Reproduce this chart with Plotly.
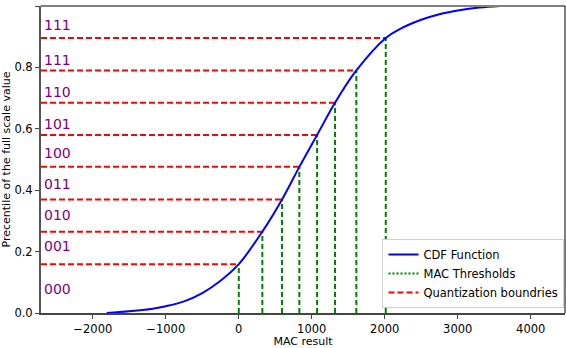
import plotly.graph_objects as go

# CDF curve
cdf_x = [-1810, -1500, -1200, -1000, -750, -500, -250, 0, 323, 593, 830, 1073,
         1319, 1611, 2014, 2200, 2500, 2750, 3000, 3300, 3580]
cdf_y = [0.0, 0.006, 0.013, 0.022, 0.038, 0.065, 0.105, 0.159, 0.265, 0.370,
         0.476, 0.580, 0.685, 0.790, 0.896, 0.924, 0.955, 0.973, 0.985, 0.995, 1.0]

# MAC thresholds and quantization levels
thresh_x = [0, 323, 593, 830, 1073, 1319, 1611, 2014]
levels_y = [0.159, 0.265, 0.370, 0.476, 0.580, 0.685, 0.790, 0.896]

codes = ["000", "001", "010", "011", "100", "101", "110", "111", "111"]
code_y = [0.078, 0.218, 0.319, 0.42, 0.521, 0.616, 0.72, 0.824, 0.938]

x_min, x_max = -2710, 4470
font = "DejaVu Sans"

fig = go.Figure()

for i in range(len(thresh_x)):
    fig.add_trace(go.Scatter(x=[thresh_x[i], thresh_x[i]], y=[0, levels_y[i]], mode='lines',
                             line=dict(color='green', width=2, dash='5px,3px'),
                             showlegend=False, hoverinfo='skip'))
    fig.add_trace(go.Scatter(x=[x_min, thresh_x[i]], y=[levels_y[i], levels_y[i]], mode='lines',
                             line=dict(color='red', width=2, dash='6px,3px'),
                             showlegend=False, hoverinfo='skip'))

fig.add_trace(go.Scatter(x=cdf_x, y=cdf_y, mode='lines', line=dict(color='blue', width=2, shape='spline'),
                         name='CDF Function'))
# legend entries only
fig.add_trace(go.Scatter(x=[None], y=[None], mode='lines', line=dict(color='green', width=2, dash='2px,2px'),
                         name='MAC Thresholds'))
fig.add_trace(go.Scatter(x=[None], y=[None], mode='lines', line=dict(color='red', width=2, dash='6px,3px'),
                         name='Quantization boundries'))

for i in range(len(codes)):
    fig.add_annotation(x=-2690, y=code_y[i], text=codes[i], showarrow=False, xanchor='left',
                       yanchor='middle', font=dict(color='purple', size=14, family=font))

fig.update_layout(
    width=566, height=348,
    margin=dict(l=41, r=1, t=6, b=35, autoexpand=False),
    paper_bgcolor='white', plot_bgcolor='white',
    font=dict(family=font, size=11, color='black'),
    legend=dict(x=0.999, y=0.016, xanchor='right', yanchor='bottom', bgcolor='white',
                bordercolor='#d0d0d0', borderwidth=1, font=dict(size=11.5), tracegroupgap=0),
    shapes=[
        dict(type='line', xref='paper', yref='paper', x0=0, x1=1, y0=1, y1=1,
             line=dict(color='gray', width=2)),
        dict(type='line', xref='paper', yref='paper', x0=1, x1=1, y0=0, y1=1,
             line=dict(color='black', width=1)),
    ],
)
fig.update_xaxes(range=[x_min, x_max], tickvals=[-2000, -1000, 0, 1000, 2000, 3000, 4000],
                 showgrid=False, zeroline=False, showline=True, linecolor='#444', linewidth=2,
                 ticks='outside', ticklen=4, tickcolor='#444', automargin=False,
                 tickfont=dict(size=11.5),
                 title=dict(text='MAC result', standoff=2, font=dict(size=11)))
fig.update_yaxes(range=[0, 1], tickvals=[0, 0.2, 0.4, 0.6, 0.8, 1.0], tickformat='.1f',
                 showgrid=False, zeroline=False, showline=True, linecolor='#555', linewidth=2,
                 ticks='outside', ticklen=4, tickcolor='#444', automargin=False,
                 tickfont=dict(size=11.5),
                 title=dict(text='Precentile of the full scale value', standoff=4, font=dict(size=11)))

fig.write_html("out.html", config={'displayModeBar': False},
               post_script="document.body.style.margin='0px';")
